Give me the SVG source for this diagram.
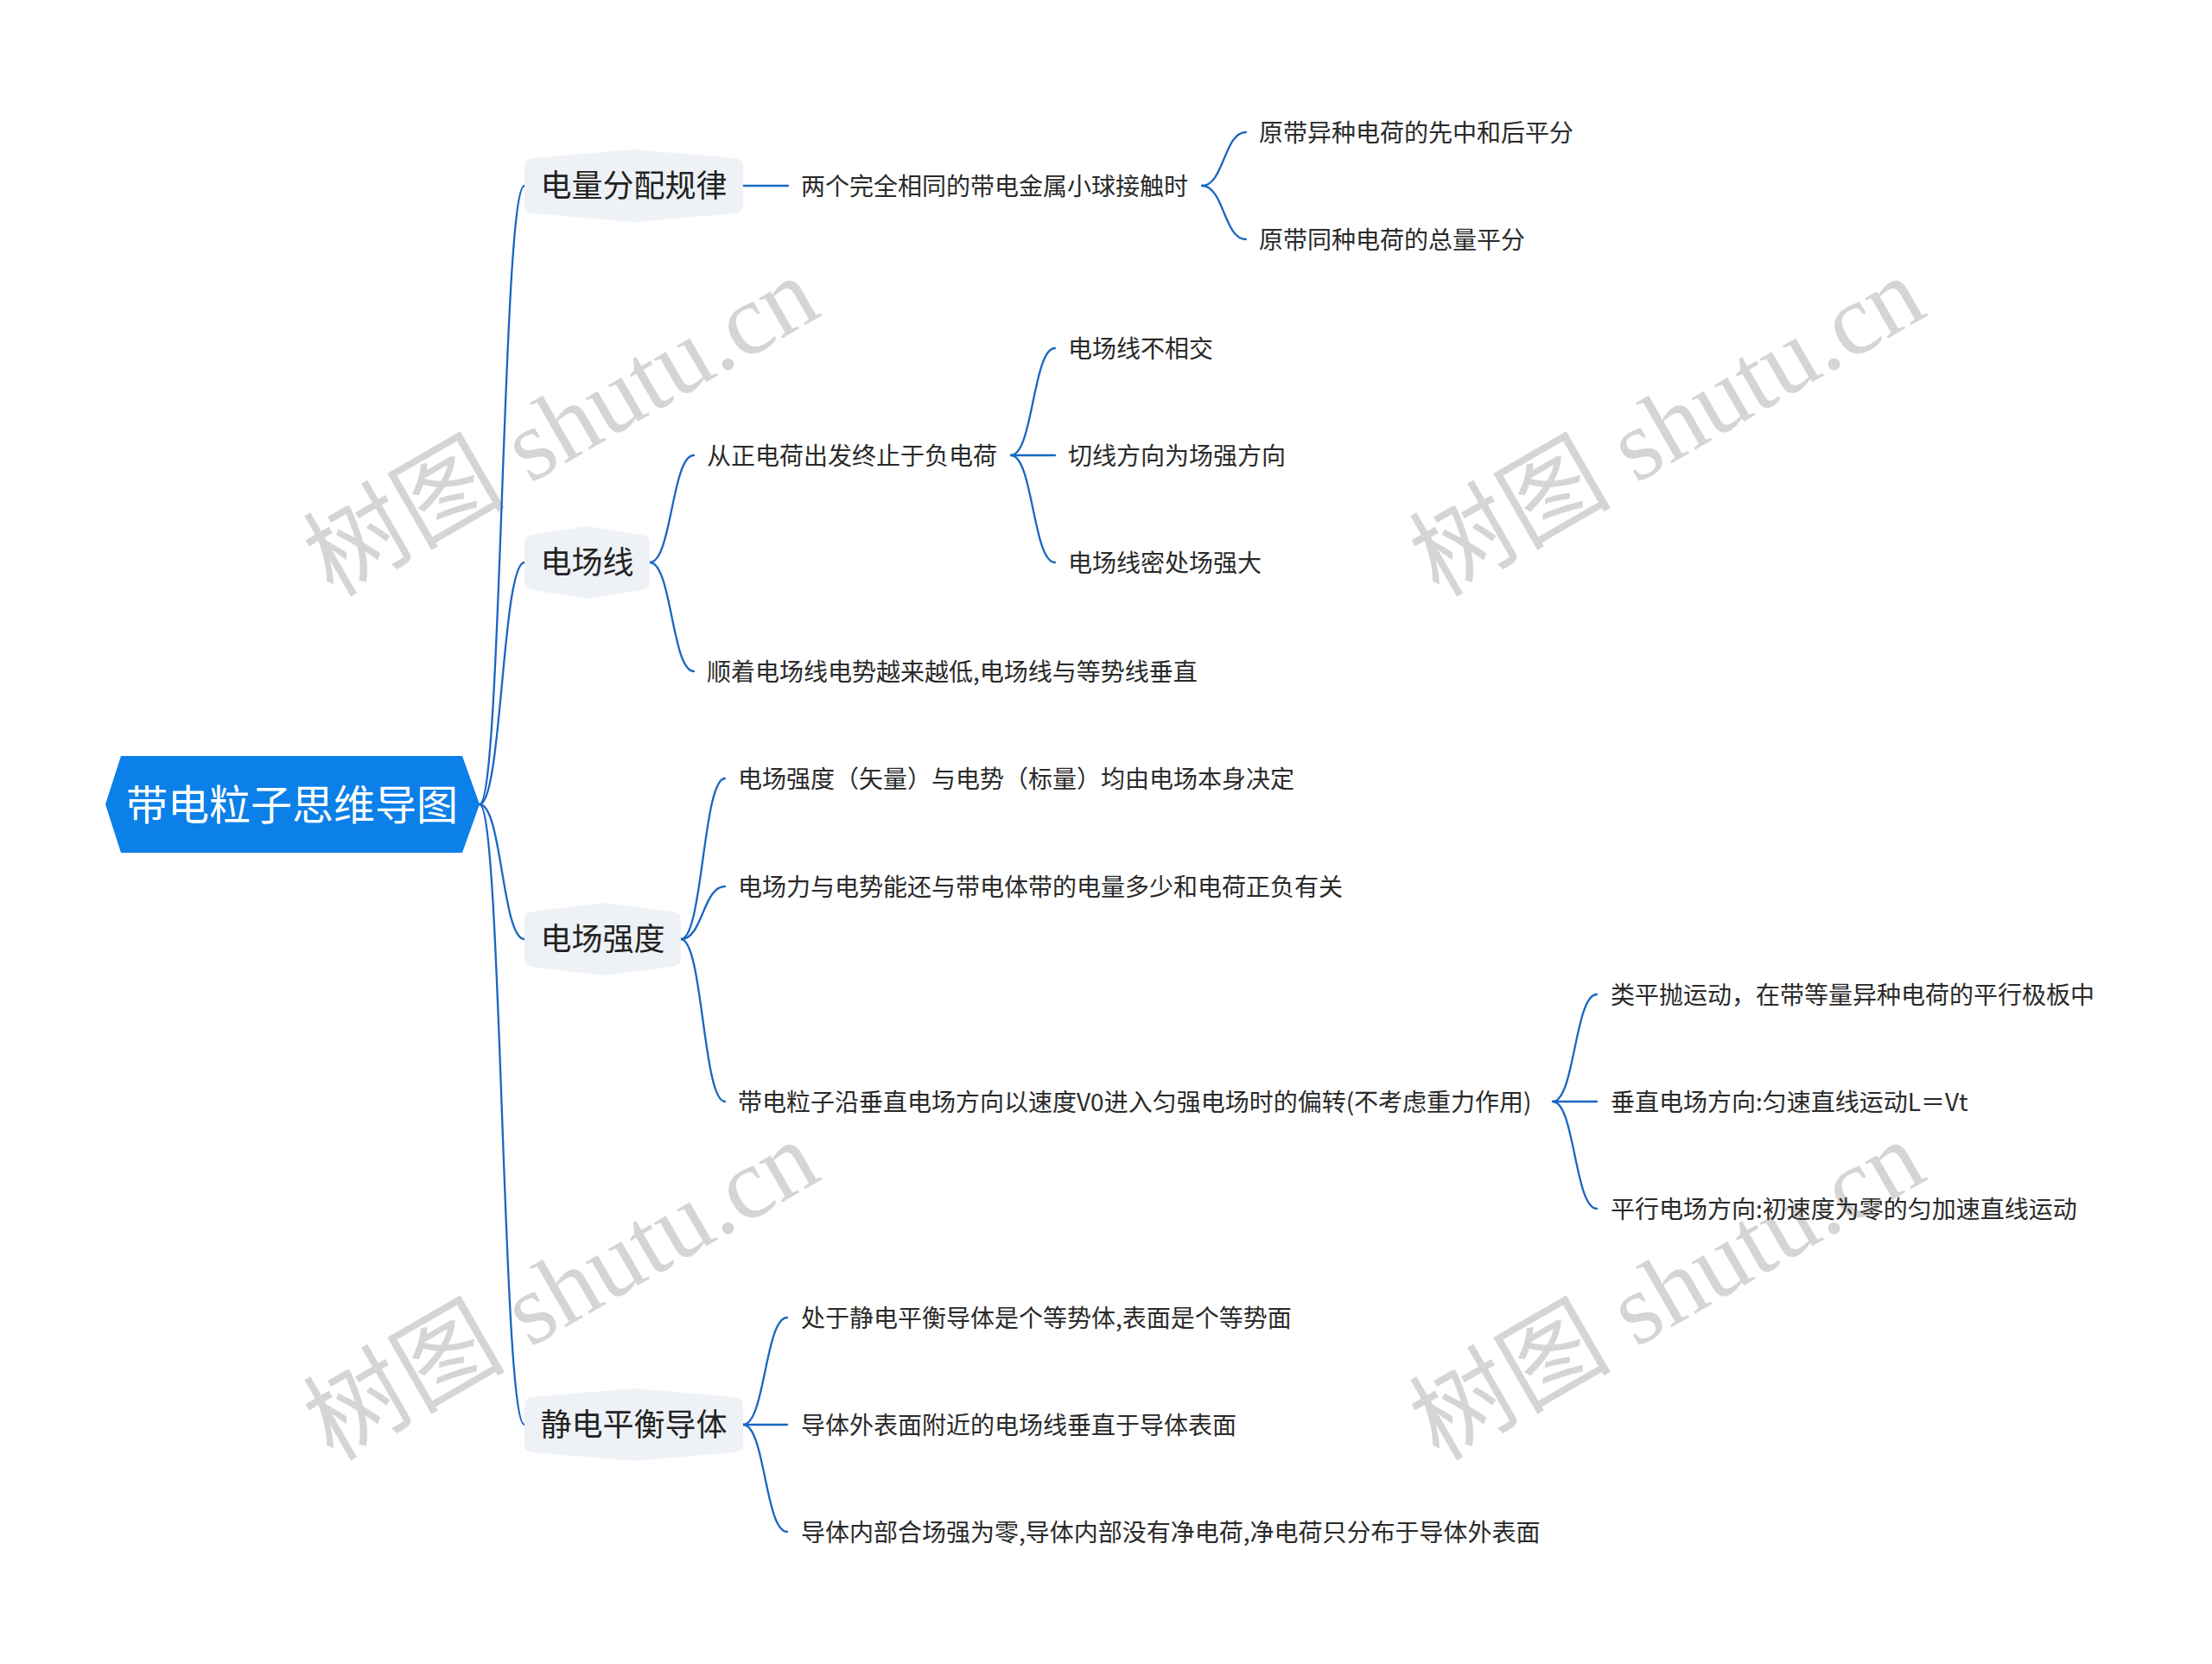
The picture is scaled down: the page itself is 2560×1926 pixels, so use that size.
<svg xmlns="http://www.w3.org/2000/svg" width="2560" height="1926" viewBox="0 0 2560 1926">
<style>
.wm{font-family:"Liberation Serif","Noto Sans CJK SC",serif;font-size:117px;fill:#d5d5d5}
.conn path{fill:none;stroke:#1a66c2;stroke-width:2.3;stroke-linecap:round}
.root{fill:#0b80e8}
.rt{font-family:"Noto Sans CJK SC","Noto Sans",sans-serif;font-size:48px;fill:#ffffff;text-anchor:middle}
.l1{fill:#eef1f5}
.t1{font-family:"Noto Sans CJK SC","Noto Sans",sans-serif;font-size:36px;fill:#222222;text-anchor:middle}
.t2{font-family:"Noto Sans CJK SC","Noto Sans",sans-serif;font-size:28px;fill:#2a2a2a}
</style>
<rect width="2560" height="1926" fill="#ffffff"/>
<g id="watermarks">
<text class="wm" transform="translate(385,692) rotate(-30)">树图 shutu.cn</text>
<text class="wm" transform="translate(1665,692) rotate(-30)">树图 shutu.cn</text>
<text class="wm" transform="translate(385,1692) rotate(-30)">树图 shutu.cn</text>
<text class="wm" transform="translate(1665,1692) rotate(-30)">树图 shutu.cn</text>
</g>
<g id="connectors" class="conn">
<path d="M555 931 C581 931 581 215 607 215"/>
<path d="M555 931 C581 931 581 651 607 651"/>
<path d="M555 931 C581 931 581 1087 607 1087"/>
<path d="M555 931 C581 931 581 1649 607 1649"/>
<path d="M860 215 L912 215"/>
<path d="M1391 215 C1416.5 215 1416.5 153 1442 153"/>
<path d="M1391 215 C1416.5 215 1416.5 277 1442 277"/>
<path d="M752 651 C777.5 651 777.5 527 803 527"/>
<path d="M752 651 C777.5 651 777.5 777 803 777"/>
<path d="M1170 527 C1195.5 527 1195.5 403 1221 403"/>
<path d="M1170 527 L1221 527"/>
<path d="M1170 527 C1195.5 527 1195.5 651 1221 651"/>
<path d="M788 1087 C813.5 1087 813.5 901 839 901"/>
<path d="M788 1087 C813.5 1087 813.5 1026 839 1026"/>
<path d="M788 1087 C813.5 1087 813.5 1275 839 1275"/>
<path d="M1797 1275 C1822.5 1275 1822.5 1151 1848 1151"/>
<path d="M1797 1275 L1848 1275"/>
<path d="M1797 1275 C1822.5 1275 1822.5 1399 1848 1399"/>
<path d="M860 1649 C885.5 1649 885.5 1525 911 1525"/>
<path d="M860 1649 L911 1649"/>
<path d="M860 1649 C885.5 1649 885.5 1773 911 1773"/>
</g>
<g id="root">
<polygon class="root" points="122,931 140,875 535,875 555,931 535,987 140,987"/>
<text class="rt" x="338" y="949">带电粒子思维导图</text>
</g>
<g id="n-dianliang">
<path class="l1" d="M733.5 173 L850 183 Q860 184 860 192 L860 238 Q860 246 850 247 L733.5 257 L617 247 Q607 246 607 238 L607 192 Q607 184 617 183 Z"/>
<text class="t1" x="733.5" y="228">电量分配规律</text>
</g>
<g id="n-dianliang-c1">
<text class="t2" x="927" y="225.6">两个完全相同的带电金属小球接触时</text>
</g>
<g id="n-dianliang-c1a">
<text class="t2" x="1457" y="163.6">原带异种电荷的先中和后平分</text>
</g>
<g id="n-dianliang-c1b">
<text class="t2" x="1457" y="287.6">原带同种电荷的总量平分</text>
</g>
<g id="n-changxian">
<path class="l1" d="M679.5 609 L742 619 Q752 620 752 628 L752 674 Q752 682 742 683 L679.5 693 L617 683 Q607 682 607 674 L607 628 Q607 620 617 619 Z"/>
<text class="t1" x="679.5" y="664">电场线</text>
</g>
<g id="n-changxian-c1">
<text class="t2" x="818" y="537.6">从正电荷出发终止于负电荷</text>
</g>
<g id="n-changxian-c1a">
<text class="t2" x="1236" y="413.6">电场线不相交</text>
</g>
<g id="n-changxian-c1b">
<text class="t2" x="1236" y="537.6">切线方向为场强方向</text>
</g>
<g id="n-changxian-c1c">
<text class="t2" x="1236" y="661.6">电场线密处场强大</text>
</g>
<g id="n-changxian-c2">
<text class="t2" x="818" y="787.6">顺着电场线电势越来越低,电场线与等势线垂直</text>
</g>
<g id="n-qiangdu">
<path class="l1" d="M697.5 1045 L778 1055 Q788 1056 788 1064 L788 1110 Q788 1118 778 1119 L697.5 1129 L617 1119 Q607 1118 607 1110 L607 1064 Q607 1056 617 1055 Z"/>
<text class="t1" x="697.5" y="1100">电场强度</text>
</g>
<g id="n-qiangdu-c1">
<text class="t2" x="854" y="911.6">电场强度（矢量）与电势（标量）均由电场本身决定</text>
</g>
<g id="n-qiangdu-c2">
<text class="t2" x="854" y="1036.6">电场力与电势能还与带电体带的电量多少和电荷正负有关</text>
</g>
<g id="n-qiangdu-c3">
<text class="t2" x="854" y="1285.6">带电粒子沿垂直电场方向以速度V0进入匀强电场时的偏转(不考虑重力作用)</text>
</g>
<g id="n-qiangdu-c3a">
<text class="t2" x="1864" y="1161.6">类平抛运动，在带等量异种电荷的平行极板中</text>
</g>
<g id="n-qiangdu-c3b">
<text class="t2" x="1864" y="1285.6">垂直电场方向:匀速直线运动L＝Vt</text>
</g>
<g id="n-qiangdu-c3c">
<text class="t2" x="1864" y="1409.6">平行电场方向:初速度为零的匀加速直线运动</text>
</g>
<g id="n-jingdian">
<path class="l1" d="M733.5 1607 L850 1617 Q860 1618 860 1626 L860 1672 Q860 1680 850 1681 L733.5 1691 L617 1681 Q607 1680 607 1672 L607 1626 Q607 1618 617 1617 Z"/>
<text class="t1" x="733.5" y="1662">静电平衡导体</text>
</g>
<g id="n-jingdian-c1">
<text class="t2" x="927" y="1535.6">处于静电平衡导体是个等势体,表面是个等势面</text>
</g>
<g id="n-jingdian-c2">
<text class="t2" x="927" y="1659.6">导体外表面附近的电场线垂直于导体表面</text>
</g>
<g id="n-jingdian-c3">
<text class="t2" x="927" y="1783.6">导体内部合场强为零,导体内部没有净电荷,净电荷只分布于导体外表面</text>
</g>
</svg>
